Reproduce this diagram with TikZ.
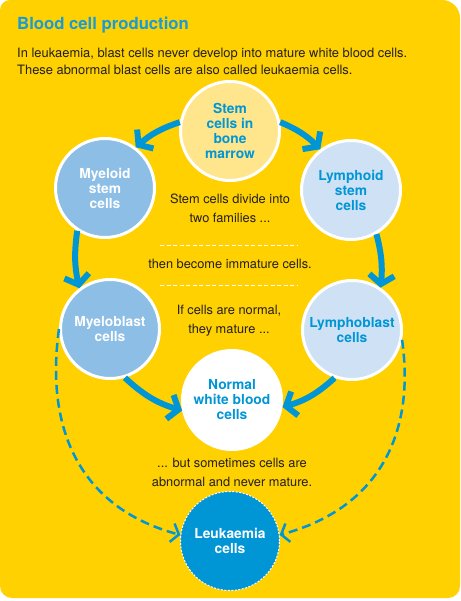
\documentclass[tikz,border=0pt]{standalone}
\usepackage{fontspec}
\setmainfont{TeX Gyre Heros}
\usetikzlibrary{arrows.meta,positioning}

\definecolor{bgyellow}{RGB}{255,209,0}
\definecolor{cellblue}{RGB}{0,150,214}
\definecolor{titleblue}{RGB}{24,155,215}
\definecolor{midblue}{RGB}{140,190,230}
\definecolor{paleblue}{RGB}{207,226,245}
\definecolor{stemyellow}{RGB}{255,230,140}
\definecolor{textdark}{RGB}{35,31,32}

\begin{document}
\begin{tikzpicture}[
    x=1pt, y=1pt,
    cell/.style={circle, draw=white, line width=3pt, minimum size=99pt, inner sep=0pt,
        align=center, font=\fontsize{13.8}{15}\selectfont\bfseries},
    note/.style={align=center, inner sep=0pt, text=textdark, font=\fontsize{12.8}{19}\selectfont},
    flow/.style={draw=cellblue, line width=6pt, -{Straight Barb[length=9pt, width=25pt]}},
    maybe/.style={draw=cellblue, line width=2.5pt, dash pattern=on 9pt off 5pt,
        -{Straight Barb[length=7pt, width=19pt]}},
    rule/.style={draw=white, line width=0.8pt, dash pattern=on 4pt off 2.5pt}
]
\useasboundingbox (0,0) rectangle (460,-601);
\fill[bgyellow] (0,-300) [rounded corners=10pt] -- (0,0) -- (230,0)
    [rounded corners=18pt] -- (460,0) -- (460,-300)
    [rounded corners=12pt] -- (460,-598) -- (0,-598) -- cycle;

% heading
\node[anchor=base west, inner sep=0pt, text=titleblue,
    font=\fontsize{16.7}{20}\selectfont\bfseries] (title) at (17,-30) {Blood cell production};
\node[anchor=north west, align=left, inner sep=0pt, text=textdark,
    font=\fontsize{12.9}{17.5}\selectfont] (intro) at (17,-47.5)
    {In leukaemia, blast cells never develop into mature white blood cells.\\
     These abnormal blast cells are also called leukaemia cells.};

% cells
\node[cell, fill=stemyellow, text=cellblue] (stem) at (230,-131) {Stem\\cells in\\bone\\marrow};
\node[cell, fill=midblue, text=white] (myeloid) at (105,-188) {Myeloid\\stem\\cells};
\node[cell, fill=paleblue, text=cellblue] (lymphoid) at (351,-190) {Lymphoid\\stem\\cells};
\node[cell, fill=midblue, text=white] (myeloblast) at (110,-329) {Myeloblast\\cells};
\node[cell, fill=paleblue, text=cellblue] (lymphoblast) at (352,-330) {Lymphoblast\\cells};
\node[cell, fill=white, text=cellblue] (normal) at (232,-400) {Normal\\white blood\\cells};
\node[cell, fill=cellblue, text=white, line width=1pt, dash pattern=on 2pt off 1.5pt] (leuk) at (230,-541) {Leukaemia\\cells};

% notes in the middle
\node[note] (divide) at (230,-208) {Stem cells divide into\\two families ...};
\node[note] (immature) at (230,-264) {then become immature cells.};
\node[note] (mature) at (229,-321) {If cells are normal,\\they mature ...};
\node[note] (never) at (232,-472) {... but sometimes cells are\\abnormal and never mature.};

\coordinate (ruleAl) at (160,-245);
\coordinate (ruleAr) at (297,-245);
\coordinate (ruleBl) at (160,-285);
\coordinate (ruleBr) at (297,-285);
\draw[rule] (ruleAl) -- (ruleAr);
\draw[rule] (ruleBl) -- (ruleBr);

% normal path
\draw[flow] (stem.170) to[bend right=11] (myeloid.53);
\draw[flow] (myeloid.237) to[bend right=10] (myeloblast.127);
\draw[flow] (myeloblast.287) to[bend right=13] (normal.192);
\draw[flow] (stem.10) to[bend left=11] (lymphoid.127);
\draw[flow] (lymphoid.300) to[bend left=10] (lymphoblast.56);
\draw[flow] (lymphoblast.250) to[bend left=13] (normal.352);

% abnormal path
\draw[maybe] (myeloblast.180) to[out=262, in=165, looseness=1.1] (leuk.173);
\draw[maybe] (lymphoblast.349) to[out=278, in=15, looseness=1.1] (leuk.7);
\end{tikzpicture}
\end{document}
